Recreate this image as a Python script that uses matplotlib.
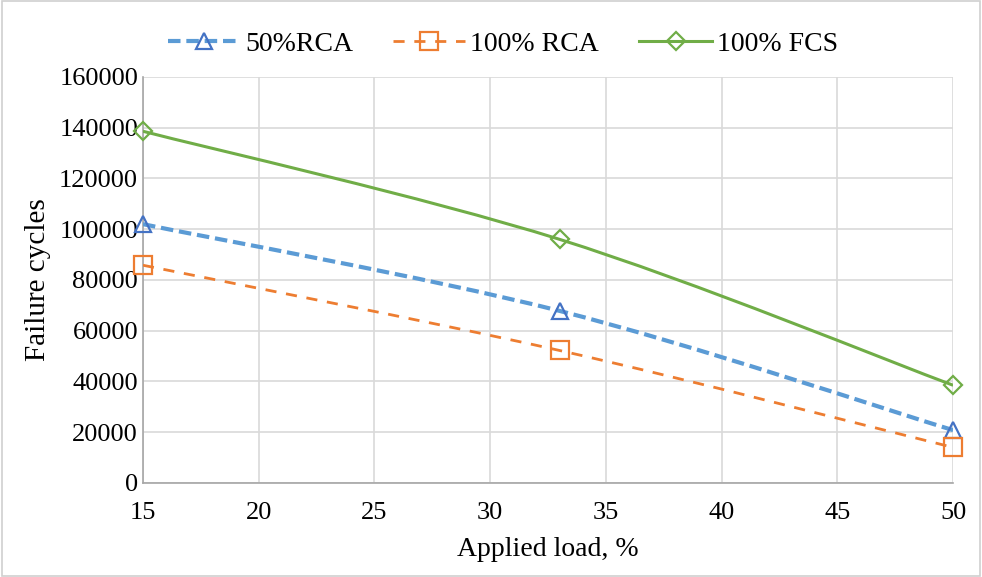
import numpy as np
import matplotlib.pyplot as plt
from matplotlib.path import Path
from matplotlib.patches import PathPatch
from matplotlib.lines import Line2D

plt.rcParams['font.family'] = ['Liberation Serif', 'DejaVu Serif']

load = [15, 33, 50]
rca50 = [102000, 67800, 20800]
rca100 = [85800, 52200, 14000]
fcs100 = [138600, 96000, 38500]


def smooth_path(x, y):
    # Catmull-Rom style cubic Bezier through the points (like spreadsheet "smoothed line")
    x = np.asarray(x, float)
    y = np.asarray(y, float)
    px = np.concatenate(([x[0]], x, [x[-1]]))
    py = np.concatenate(([y[0]], y, [y[-1]]))
    verts = [(x[0], y[0])]
    codes = [Path.MOVETO]
    for i in range(1, len(px) - 2):
        c1 = (px[i] + (px[i + 1] - px[i - 1]) / 6, py[i] + (py[i + 1] - py[i - 1]) / 6)
        c2 = (px[i + 1] - (px[i + 2] - px[i]) / 6, py[i + 1] - (py[i + 2] - py[i]) / 6)
        verts += [c1, c2, (px[i + 1], py[i + 1])]
        codes += [Path.CURVE4] * 3
    return Path(verts, codes)


fig = plt.figure(figsize=(9.82, 5.77), dpi=100)
ax = fig.add_axes([0.1456, 0.163, 0.825, 0.7036])

series = [
    ('50%RCA', rca50, '#5B9BD5', '#4472C4', '^', (0, (3.0, 1.4)), 3.0, 12),
    ('100% RCA', rca100, '#ED7D31', '#ED7D31', 's', (0, (4, 3.5)), 2.0, 13),
    ('100% FCS', fcs100, '#70AD47', '#70AD47', 'D', '-', 2.2, 9.5),
]

handles = []
for name, vals, lc, mc, mk, ls, lw, ms in series:
    ax.add_patch(PathPatch(smooth_path(load, vals), facecolor='none', edgecolor=lc,
                           linestyle=ls, linewidth=lw, zorder=3, capstyle='butt'))
    ax.plot(load, vals, linestyle='none', marker=mk, markersize=ms,
            markerfacecolor='none', markeredgecolor=mc, markeredgewidth=1.6, zorder=4,
            clip_on=False)
    handles.append(Line2D([], [], color=lc, linestyle=ls, linewidth=lw, marker=mk,
                          markersize=ms, markerfacecolor='none', markeredgecolor=mc,
                          markeredgewidth=1.6, label=name))

ax.set_xlim(15, 50)
ax.set_ylim(0, 160000)
ax.set_xticks(np.arange(15, 51, 5))
ax.set_yticks(np.arange(0, 160001, 20000))
ax.grid(True, color='#D9D9D9', linewidth=1.2, zorder=0)
ax.set_axisbelow(True)
for s in ['top', 'right']:
    ax.spines[s].set_visible(False)
for s in ['left', 'bottom']:
    ax.spines[s].set_color('#A6A6A6')
    ax.spines[s].set_linewidth(1.2)
ax.tick_params(length=0, labelsize=19, colors='#000000')
ax.tick_params(axis='x', pad=14)
ax.tick_params(axis='y', pad=3.5)
ax.set_xlabel('Applied load, %', fontsize=20, labelpad=9)
ax.set_ylabel('Failure cycles', fontsize=21, labelpad=6)

fig.legend(handles=handles, loc='center', bbox_to_anchor=(0.512, 0.924), ncol=3,
           frameon=False, fontsize=20, handlelength=2.6, columnspacing=1.45,
           handletextpad=0.18)

fig.patches.append(plt.Rectangle((0.002, 0.002), 0.996, 0.996, transform=fig.transFigure,
                                 fill=False, edgecolor='#D0D0D0', linewidth=1.2))

fig.savefig('out.png', dpi=100)
